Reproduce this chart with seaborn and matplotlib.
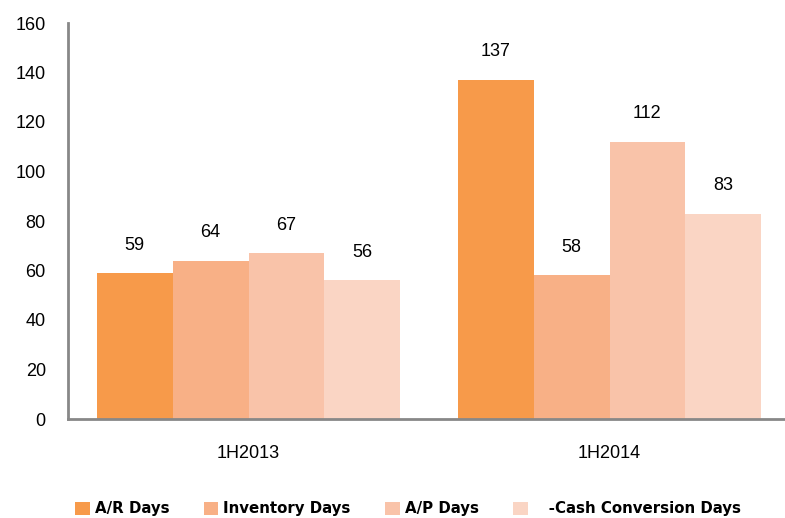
import matplotlib
matplotlib.use('Agg')
import matplotlib.pyplot as plt
import pandas as pd
import seaborn as sns
from matplotlib.patches import Patch

# data
periods = ['1H2013', '1H2014']
metrics = ['A/R Days', 'Inventory Days', 'A/P Days', '-Cash Conversion Days']
ar_days = [59, 137]
inventory_days = [64, 58]
ap_days = [67, 112]
ccc_days = [56, 83]
colors = ['#F79A4A', '#F8B086', '#F9C3A9', '#FAD5C4']
y_ticks = [0, 20, 40, 60, 80, 100, 120, 140, 160]

df = pd.DataFrame({
    'period': periods * 4,
    'metric': [m for m in metrics for _ in periods],
    'days': ar_days + inventory_days + ap_days + ccc_days,
})

sns.set_style('white')
plt.rcParams['font.family'] = ['Liberation Sans', 'DejaVu Sans']
plt.rcParams['text.color'] = 'black'
plt.rcParams['xtick.color'] = 'black'
plt.rcParams['ytick.color'] = 'black'

fig = plt.figure(figsize=(7.85, 5.18), dpi=100)
ax = fig.add_axes([68 / 785, 99 / 518, 722 / 785, 396 / 518])

sns.barplot(data=df, x='period', y='days', hue='metric', order=periods, hue_order=metrics,
            palette=colors, saturation=1, width=0.84, gap=0, linewidth=0, ax=ax, legend=False)

# value labels above each bar
for container in ax.containers:
    ax.bar_label(container, padding=14, fontsize=13, color='black')

ax.set_xlim(-0.5, 1.5)
ax.set_ylim(0, 160)
ax.set_yticks(y_ticks)
ax.tick_params(axis='y', labelsize=13, length=0, pad=16)
ax.tick_params(axis='x', labelsize=13, length=0, pad=19)
ax.set_xlabel('')
ax.set_ylabel('')
for side in ['top', 'right']:
    ax.spines[side].set_visible(False)
for side in ['left', 'bottom']:
    ax.spines[side].set_color('#888888')
    ax.spines[side].set_linewidth(2)

handles = [Patch(facecolor=c, edgecolor='none') for c in colors]
labels = ['A/R Days', 'Inventory Days', 'A/P Days', '   -Cash Conversion Days']
fig.legend(handles, labels, loc='center', bbox_to_anchor=(408 / 785, 1 - 509 / 518), ncol=4,
           frameon=False, handlelength=0.95, handleheight=0.95, handletextpad=0.35,
           columnspacing=2.3, prop={'family': ['Liberation Sans Narrow', 'DejaVu Sans'],
                                    'weight': 'bold', 'size': 10.8})

fig.savefig('out.png', dpi=100)
